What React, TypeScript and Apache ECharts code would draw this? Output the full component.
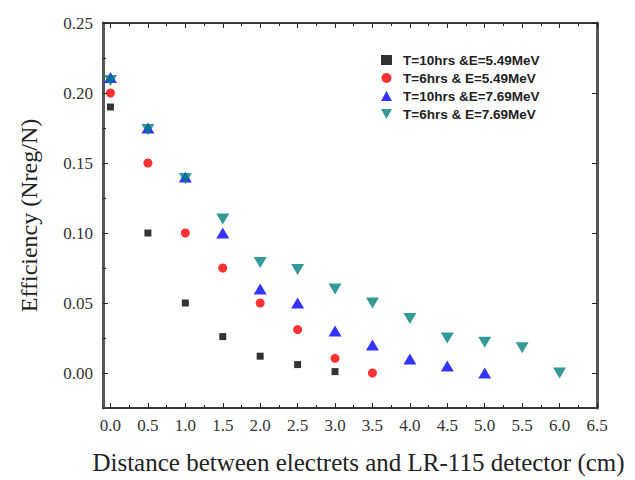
import React, { useEffect, useRef } from "react";
import * as echarts from "echarts";

const xValues = [0, 0.5, 1.0, 1.5, 2.0, 2.5, 3.0, 3.5, 4.0, 4.5, 5.0, 5.5, 6.0];
const seriesNames = [
  "T=10hrs &E=5.49MeV",
  "T=6hrs & E=5.49MeV",
  "T=10hrs &E=7.69MeV",
  "T=6hrs & E=7.69MeV",
];
const black10h549 = [0.19, 0.1, 0.05, 0.026, 0.012, 0.006, 0.001];
const red6h549 = [0.2, 0.15, 0.1, 0.075, 0.05, 0.031, 0.0105, 0.0];
const blue10h769 = [0.211, 0.175, 0.14, 0.1, 0.06, 0.05, 0.03, 0.02, 0.01, 0.005, 0.0];
const teal6h769 = [0.209, 0.174, 0.139, 0.11, 0.079, 0.074, 0.06, 0.05, 0.039, 0.025, 0.022, 0.018, 0.0];

const xMajorTicks = [0, 0.5, 1, 1.5, 2, 2.5, 3, 3.5, 4, 4.5, 5, 5.5, 6, 6.5];
const xMinorTicks = [0.25, 0.75, 1.25, 1.75, 2.25, 2.75, 3.25, 3.75, 4.25, 4.75, 5.25, 5.75, 6.25];
const yMajorTicks = [0, 0.05, 0.1, 0.15, 0.2, 0.25];
const yMinorTicks = [0.025, 0.075, 0.125, 0.175, 0.225];

const X_MIN = -0.1;
const X_MAX = 6.5;
const Y_MIN = -0.025;
const Y_MAX = 0.25;

const serif = "'Liberation Serif', 'Times New Roman', serif";
const lineStyle = { color: "#3a3a3a", width: 2 };

function pairs(vals: number[]) {
  return vals.map((v, i) => [xValues[i], v]);
}

export default function App() {
  const ref = useRef<HTMLDivElement>(null);
  useEffect(() => {
    if (!ref.current) return;
    const chart = echarts.init(ref.current, null, { renderer: "svg" });
    const hiddenLine = { show: false };
    const baseX = { type: "value", min: X_MIN, max: X_MAX, splitLine: { show: false } };
    const baseY = { type: "value", min: Y_MIN, max: Y_MAX, splitLine: { show: false } };
    chart.setOption({
      animation: false,
      backgroundColor: "#ffffff",
      grid: { left: 103, right: 38, top: 23, bottom: 67, containLabel: false },
      legend: {
        orient: "vertical",
        left: 376,
        top: 48,
        itemWidth: 11,
        itemHeight: 10,
        itemGap: 4,
        textStyle: { fontFamily: "'Liberation Sans', Arial, sans-serif", fontWeight: "bold", fontSize: 13.5, color: "#222", lineHeight: 14, padding: [0, 0, 0, 6] },
        data: seriesNames,
      },
      xAxis: [
        {
          ...baseX,
          position: "bottom",
          axisLine: { onZero: false, lineStyle },
          axisTick: { inside: true, length: 5, customValues: xMajorTicks, lineStyle: { color: "#222" } },
          axisLabel: {
            customValues: xMajorTicks,
            formatter: (v: number) => v.toFixed(1),
            fontFamily: serif,
            fontSize: 17,
            color: "#333",
            margin: 9,
          },
          name: "Distance between electrets and LR-115 detector (cm)",
          nameLocation: "middle",
          nameGap: 42,
          nameTextStyle: { fontFamily: serif, fontSize: 25, color: "#222", padding: [0, 0, 0, 17] },
        },
        {
          ...baseX,
          position: "bottom",
          axisLine: { ...hiddenLine, onZero: false },
          axisTick: { inside: true, length: 3, customValues: xMinorTicks, lineStyle: { color: "#222" } },
          axisLabel: { show: false },
        },
        {
          ...baseX,
          position: "top",
          axisLine: { onZero: false, lineStyle },
          axisTick: { inside: true, length: 5, customValues: xMajorTicks, lineStyle: { color: "#222" } },
          axisLabel: { show: false },
        },
        {
          ...baseX,
          position: "top",
          axisLine: { ...hiddenLine, onZero: false },
          axisTick: { inside: true, length: 3, customValues: xMinorTicks, lineStyle: { color: "#222" } },
          axisLabel: { show: false },
        },
      ],
      yAxis: [
        {
          ...baseY,
          position: "left",
          axisLine: { onZero: false, lineStyle: { color: "#555", width: 3 } },
          axisTick: { inside: true, length: 5, customValues: yMajorTicks, lineStyle: { color: "#222" } },
          axisLabel: {
            customValues: yMajorTicks,
            formatter: (v: number) => v.toFixed(2),
            fontFamily: serif,
            fontSize: 17,
            color: "#333",
            margin: 10,
          },
          name: "Efficiency (Nreg/N)",
          nameLocation: "middle",
          nameGap: 62,
          nameTextStyle: { fontFamily: serif, fontSize: 24, color: "#222" },
        },
        {
          ...baseY,
          position: "left",
          axisLine: { ...hiddenLine, onZero: false },
          axisTick: { inside: true, length: 3, customValues: yMinorTicks, lineStyle: { color: "#222" } },
          axisLabel: { show: false },
        },
        {
          ...baseY,
          position: "right",
          axisLine: { onZero: false, lineStyle: { color: "#555", width: 3 } },
          axisTick: { inside: true, length: 5, customValues: yMajorTicks, lineStyle: { color: "#222" } },
          axisLabel: { show: false },
        },
      ],
      series: [
        {
          name: seriesNames[0],
          type: "scatter",
          symbol: "rect",
          symbolSize: 7,
          itemStyle: { color: "#000000" },
          data: pairs(black10h549),
        },
        {
          name: seriesNames[1],
          type: "scatter",
          symbol: "circle",
          symbolSize: 9,
          itemStyle: { color: "#ff0000" },
          data: pairs(red6h549),
        },
        {
          name: seriesNames[2],
          type: "scatter",
          symbol: "triangle",
          symbolSize: [13, 11],
          itemStyle: { color: "#0000ff" },
          data: pairs(blue10h769),
        },
        {
          name: seriesNames[3],
          type: "scatter",
          symbol: "path://M0,0 L10,0 L5,9 Z",
          symbolSize: [13, 11],
          itemStyle: { color: "#008080" },
          data: pairs(teal6h769),
        },
      ],
    });
    return () => chart.dispose();
  }, []);
  return (
    <div
      ref={ref}
      style={{ position: "fixed", left: 0, top: 0, width: 635, height: 480, background: "#fff" }}
    />
  );
}
